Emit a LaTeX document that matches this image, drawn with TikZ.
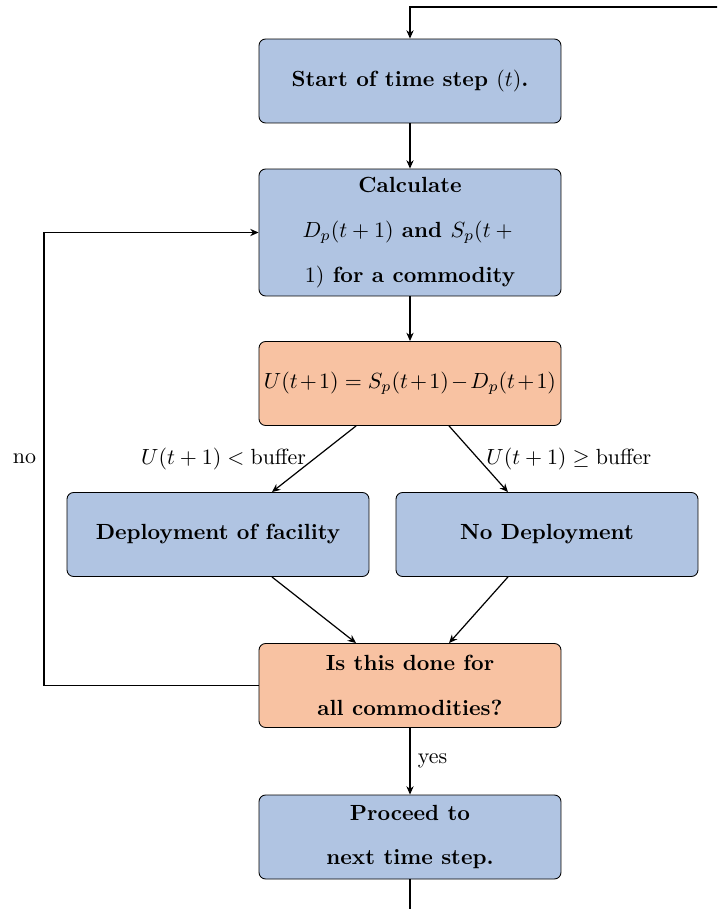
\documentclass[tikz,border=0pt]{standalone}
\usetikzlibrary{arrows.meta,positioning}
\definecolor{boxblue}{RGB}{176,196,226}
\definecolor{boxorange}{RGB}{248,194,162}
\begin{document}
\begin{tikzpicture}[x=0.456pt,y=-0.456pt,
  box/.style={draw, rounded corners=3pt, line width=0.4pt, fill=boxblue,
    minimum width=137.7pt, minimum height=38.3pt, align=center, font=\bfseries, inner sep=2pt},
  obox/.style={box, fill=boxorange},
  arr/.style={-{Stealth[length=3.8pt,width=3.3pt]}, line width=0.55pt},
  ln/.style={line width=0.55pt}]
\clip (0,0) rectangle (717,909);
\useasboundingbox (0,0) rectangle (717,909);

\node[box] (start) at (410,81) {Start of time step $(t)$.};
\node[box, minimum height=57.9pt] (calc) at (410,232.5) {Calculate\\[8.5pt] $D_p(t+1)$ and $S_p(t+{}$\\[8.5pt] $1)$ for a commodity};
\node[obox, font=\normalfont] (util) at (410,383.5) {$\medmuskip=1.8mu U(t+1) = S_p(t+1)-D_p(t+1)$};
\node[box] (dep) at (218,534.5) {Deployment of facility};
\node[box] (nodep) at (547,534.5) {No Deployment};
\node[obox] (done) at (410,685.5) {Is this done for\\[8.5pt] all commodities?};
\node[box] (next) at (410,837) {Proceed to\\[8.5pt] next time step.};

\coordinate (topR) at (740,7);
\coordinate (loopx) at (44,0);
\coordinate (botE) at (410,930);

\draw[arr] (topR) -| (start.north);
\draw[arr] (start) -- (calc);
\draw[arr] (calc) -- (util);
\draw[arr] ([xshift=-24.6pt]util.south) -- node[left]{$U(t+1) < \mathrm{buffer}$} ([xshift=24.6pt]dep.north);
\draw[arr] ([xshift=17.8pt]util.south) -- node[right]{$U(t+1) \geq \mathrm{buffer}$} ([xshift=-17.8pt]nodep.north);
\draw[arr] ([xshift=24.6pt]dep.south) -- ([xshift=-24.6pt]done.north);
\draw[arr] ([xshift=-17.8pt]nodep.south) -- ([xshift=17.8pt]done.north);
\draw[arr] (done.west) -- (done.west -| loopx) -- node[left]{no} (calc.west -| loopx) -- (calc.west);
\draw[arr] (done) -- node[right]{yes} (next);
\draw[ln] (next) -- (botE);
\end{tikzpicture}
\end{document}
